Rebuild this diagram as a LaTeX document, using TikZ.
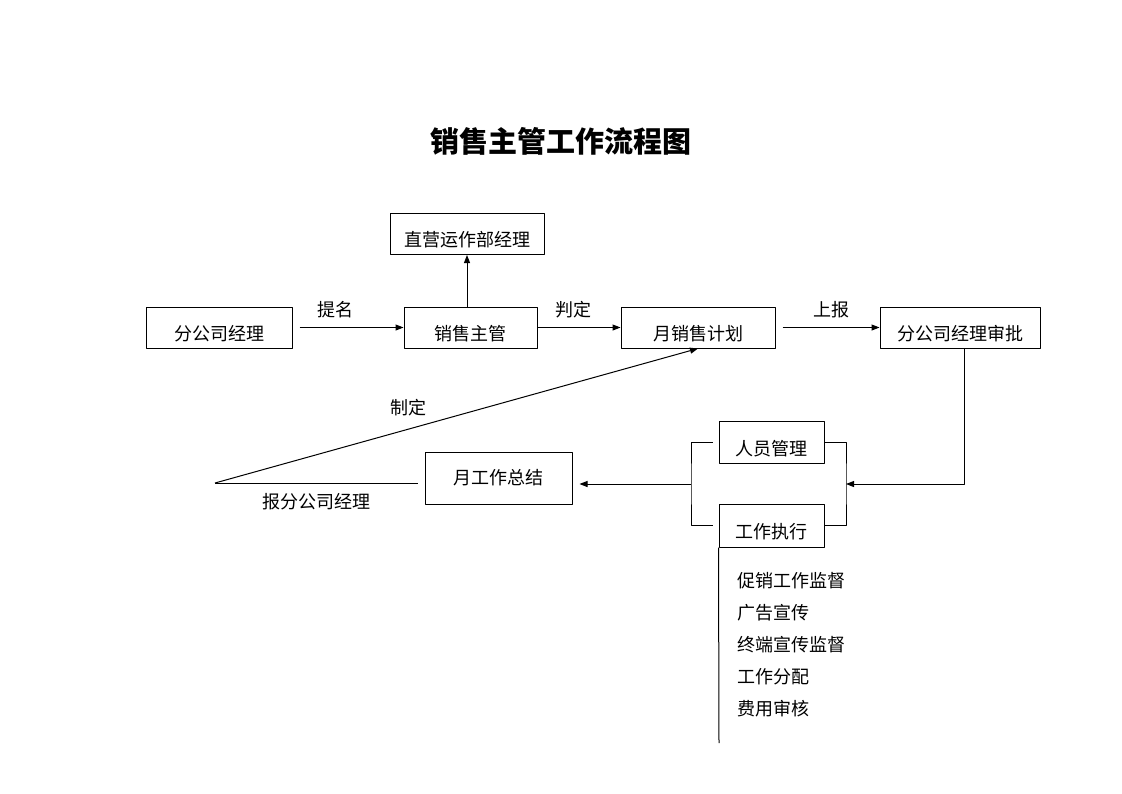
\documentclass[tikz,border=0pt]{standalone}
\usepackage{fontspec}
\newfontfamily\cjk{Noto Sans CJK SC}
\usepackage{tikz}
\usetikzlibrary{arrows.meta,calc}

\begin{document}
\begin{tikzpicture}[x=1pt,y=-1pt,>={Triangle[length=8pt,width=6pt]},line join=round,
  every node/.style={font=\cjk\fontsize{18}{18}\selectfont},
  box/.style={draw,line width=1pt,inner xsep=0pt,inner ysep=0pt,text height=33pt,text depth=8pt},
  link/.style={line width=1pt}]
  \useasboundingbox (0,0) rectangle (1122,793);
  \coordinate (turn) at (964,484);
  \coordinate (RBM) at (846,484);
  \coordinate (LBM) at (691,484);
  \coordinate (apex) at (215,483);
  \coordinate (listend) at (719,743);
  \node[font=\cjk\bfseries\fontsize{29}{29}\selectfont] (title) at (561,141) {销售主管工作流程图};
  \node[box,minimum width=146pt] (branch) at (219,327.5) {分公司经理};
  \node[box,minimum width=154pt] (direct) at (467,234) {直营运作部经理};
  \node[box,minimum width=133pt] (sales) at (470.5,327.5) {销售主管};
  \node[box,minimum width=154pt] (plan) at (698,327.5) {月销售计划};
  \node[box,minimum width=160pt] (approve) at (960,327.5) {分公司经理审批};
  \node[draw,line width=1pt,inner sep=0pt,minimum width=147pt,minimum height=52pt] (summary) at (498.5,478) {月工作总结};
  \node[box,minimum width=105pt,text height=34pt] (staff) at (771.5,442) {人员管理};
  \node[box,minimum width=105pt,text height=34pt,text depth=9pt] (exec) at (771.5,525.5) {工作执行};
  \draw[link,->] ([xshift=7pt]branch.east) -- (sales.west) node[pos=0.35,above=6pt] {提名};
  \draw[link,->] (sales.east) -- (plan.west) node[pos=0.43,above=6pt] {判定};
  \draw[link,->] ([xshift=7pt]plan.east) -- (approve.west) node[pos=0.5,above=6pt] {上报};
  \draw[link,->] (direct.south |- sales.north) -- (direct.south);
  \draw[link,->] (approve.south -| turn) -- (turn) -- (RBM);
  \draw[link] (staff.east) -| (RBM) |- (exec.east);
  \draw[link] ([xshift=-6pt]staff.west) -| (LBM) |- ([xshift=-6pt]exec.west);
  \draw[link,->] (LBM) -- ([xshift=7pt]summary.east |- LBM);
  \draw[link] ([xshift=-7pt]summary.west |- apex) -- (apex) node[pos=0.5,below=7pt] {报分公司经理};
  \draw[link,->] (apex) -- (plan.south) node[pos=0.4,above=9pt] {制定};
  \draw[link] (exec.south west) -- (listend);
  \foreach \task [count=\i] in {促销工作监督,广告宣传,终端宣传监督,工作分配,费用审核}
    \node[anchor=west,inner xsep=0pt] (task\i) at (737,548+32.2*\i) {\task};
\end{tikzpicture}
\end{document}
